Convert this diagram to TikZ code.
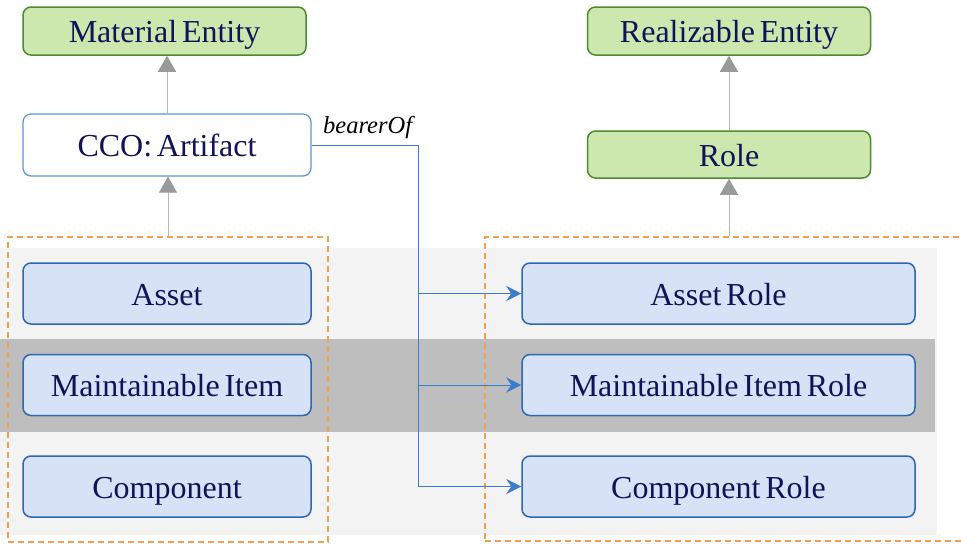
\documentclass[tikz,border=0pt]{standalone}
\usepackage{fontspec}
\setmainfont{Liberation Serif}
\newfontfamily\diagserif[WordSpace=0.6]{Liberation Serif}
\usetikzlibrary{arrows.meta}
\definecolor{txt}{HTML}{121258}
\definecolor{gfill}{HTML}{CCE8AE}
\definecolor{gdraw}{HTML}{4F8A30}
\definecolor{bfill}{HTML}{D6E3F6}
\definecolor{bdraw}{HTML}{2F67B2}
\definecolor{adraw}{HTML}{5B96D0}
\definecolor{blin}{HTML}{3C7CCB}
\definecolor{orng}{HTML}{F0A04E}
\definecolor{lband}{HTML}{F3F3F3}
\definecolor{dband}{HTML}{BEBEBE}
\definecolor{garr}{HTML}{9A9A9A}
\tikzset{
  base/.style={rounded corners=8pt, line width=1.5pt, inner sep=0pt, text=txt,
    font=\diagserif\fontsize{32}{35}\selectfont, text height=23pt, text depth=0pt},
  greenbox/.style={base, draw=gdraw, fill=gfill, minimum width=283pt, minimum height=48pt},
  artbox/.style={base, draw=adraw, fill=white, line width=1.2pt, minimum width=288pt, minimum height=62pt},
  bluebox/.style={base, draw=bdraw, fill=bfill, minimum height=61pt},
  group/.style={draw=orng, dashed, dash pattern=on 6pt off 4pt, line width=1.2pt, inner sep=0pt},
  gen/.style={draw=garr!70, line width=1pt, -{Triangle[width=18pt,length=16pt,fill=garr,color=garr]}},
  bl/.style={draw=blin, line width=1pt},
  bla/.style={bl, -{Stealth[length=15pt,width=15pt,inset=5pt,color=blin]}},
}
\begin{document}
\begin{tikzpicture}[x=1pt,y=-1pt]
\useasboundingbox (0,0) rectangle (961,544);
% bands
\fill[lband] (0,248) rectangle (937,535);
\fill[dband] (0,339) rectangle (935,432);
% groups
\node[group, minimum width=320pt, minimum height=305pt] (lg) at (168,389.5) {};
\node[group, minimum width=480pt, minimum height=304pt] (rg) at (725,389) {};
% nodes
\node[greenbox] (mat) at (164.5,31) {Material Entity};
\node[greenbox] (real) at (729,31) {Realizable Entity};
\node[artbox] (art) at (167,145) {CCO: Artifact};
\node[greenbox, minimum height=47pt] (role) at (729,154.5) {Role};
\node[bluebox, minimum width=288pt] (asset) at (167,293.5) {Asset};
\node[bluebox, minimum width=288pt] (mi) at (167,385) {Maintainable Item};
\node[bluebox, minimum width=288pt] (comp) at (167,486.5) {Component};
\node[bluebox, minimum width=393pt] (ar) at (718.5,293.5) {Asset Role};
\node[bluebox, minimum width=393pt] (mr) at (718.5,385) {Maintainable Item Role};
\node[bluebox, minimum width=393pt] (cr) at (718.5,486.5) {Component Role};
% generalisation arrows
\draw[gen] (art.north -| 167,0) -- (mat.south -| 167,0);
\draw[gen] (lg.north -| 168,0) -- (art.south -| 168,0);
\draw[gen] (role.north) -- (real.south);
\draw[gen] (rg.north -| role.south) -- (role.south);
% bearerOf
\coordinate (jx) at (418,0);
\draw[bl] (art.east) -| (jx |- cr.west);
\draw[bla] (jx |- ar.west) -- (ar.west);
\draw[bla] (jx |- mr.west) -- (mr.west);
\draw[bla] (jx |- cr.west) -- (cr.west);
\node[anchor=base west, inner sep=0pt, text=black, font=\diagserif\fontsize{24.5}{27}\selectfont\itshape] (lbl) at (323,133) {bearerOf};
\end{tikzpicture}
\end{document}
